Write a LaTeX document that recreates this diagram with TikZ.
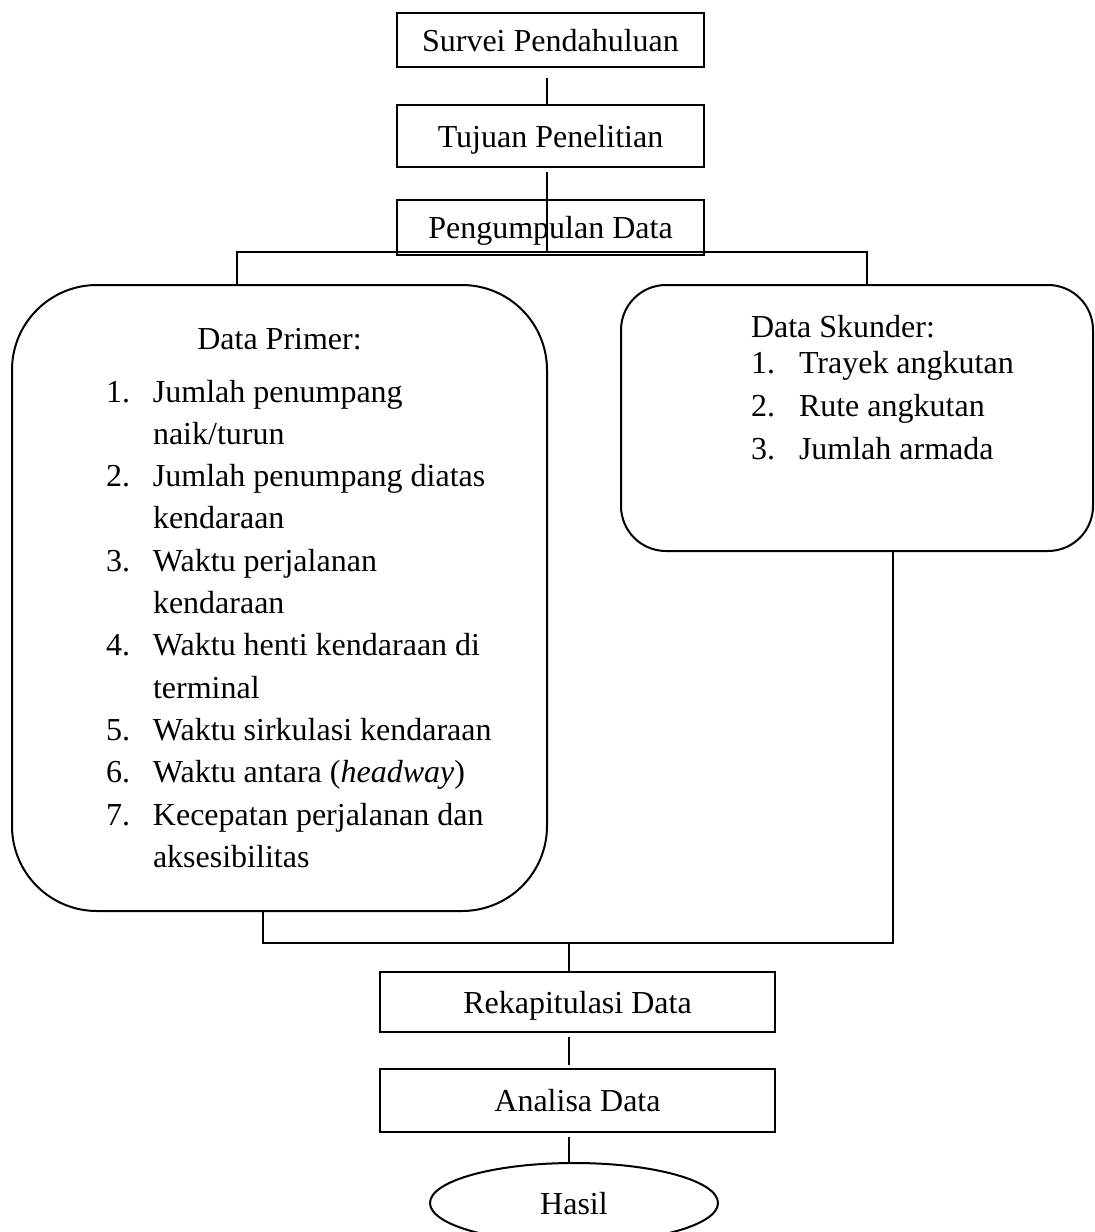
\documentclass[tikz,border=0pt]{standalone}
\usepackage{fontspec}
\setmainfont{Liberation Serif}
\usetikzlibrary{shapes.geometric}
\begin{document}
\begin{tikzpicture}[x=0.5pt,y=-0.5pt,line width=1pt,
  every node/.style={font=\fontsize{16}{21.15}\selectfont},
  box/.style={draw,rectangle,inner sep=0pt,minimum width=153.5pt,text height=11pt,text depth=0pt},
  lowbox/.style={draw,rectangle,inner sep=0pt,minimum width=197.5pt,text height=11pt,text depth=0pt},
  endshape/.style={draw,ellipse,inner sep=0pt,minimum width=144pt,minimum height=40pt,text height=11pt,text depth=0pt},
  group/.style={draw,rectangle,inner sep=0pt},
  plain/.style={inner sep=0pt}]
\useasboundingbox (0,0) rectangle (1095,1232);
\fill[white] (0,0) rectangle (1095,1232);
\clip (0,0) rectangle (1095,1232);

% top boxes
\node[box,minimum height=27pt] (b1) at (550.5,40) {Survei Pendahuluan};
\node[box,minimum height=31pt] (b2) at (550.5,136) {Tujuan Penelitian};
\node[box,minimum height=27.5pt] (b3) at (550.5,227.5) {Pengumpulan Data};

% group boxes
\node[group,rounded corners=42.5pt,minimum width=267.5pt,minimum height=313pt] (primer) at (279.5,598) {};
\node[group,rounded corners=22.5pt,minimum width=236pt,minimum height=133pt] (skunder) at (857,418) {};

\node[plain,anchor=base] (phead) at (279.5,349) {Data Primer:};
\node[plain,anchor=base west] (plist) at (105,402) {\begin{tabular}[t]{@{}p{23.5pt}@{}l@{}}
1. & Jumlah penumpang\\
   & naik/turun\\
2. & Jumlah penumpang diatas\\
   & kendaraan\\
3. & Waktu perjalanan\\
   & kendaraan\\
4. & Waktu henti kendaraan di\\
   & terminal\\
5. & Waktu sirkulasi kendaraan\\
6. & Waktu antara (\textit{headway})\\
7. & Kecepatan perjalanan dan\\
   & aksesibilitas
\end{tabular}};

\node[plain,anchor=base west] (shead) at (750,337) {Data Skunder:};
\node[plain,anchor=base west,font=\fontsize{16}{21.5}\selectfont] (slist) at (750,373) {\begin{tabular}[t]{@{}p{24pt}@{}l@{}}
1. & Trayek angkutan\\
2. & Rute angkutan\\
3. & Jumlah armada
\end{tabular}};

% bottom boxes
\node[lowbox,minimum height=30pt] (rekap) at (577.5,1002) {Rekapitulasi Data};
\node[lowbox,minimum height=31.5pt] (analisa) at (577.5,1100.5) {Analisa Data};
\node[endshape] (hasil) at (574,1203) {Hasil};

% junction points
\coordinate (jT) at (547,252);
\coordinate (jL) at (237,252);
\coordinate (jR) at (867,252);
\coordinate (kL) at (263,943);
\coordinate (kR) at (893,943);
\coordinate (kM) at (569,943);

% connectors
\draw[shorten <=5pt] (b1.south -| jT) -- (b2.north -| jT);
\draw[shorten <=2pt] (b2.south -| jT) -- (jT);
\draw (primer.north -| jL) -- (jL) -- (jR) -- (skunder.north -| jR);
\draw (primer.south -| kL) -- (kL) -- (kR) -- (skunder.south -| kR);
\draw (kM) -- (rekap.north -| kM);
\draw[shorten <=2pt,shorten >=1.5pt] (rekap.south -| kM) -- (analisa.north -| kM);
\draw[shorten <=2pt] (analisa.south -| kM) -- (hasil.north -| kM);
\end{tikzpicture}
\end{document}
